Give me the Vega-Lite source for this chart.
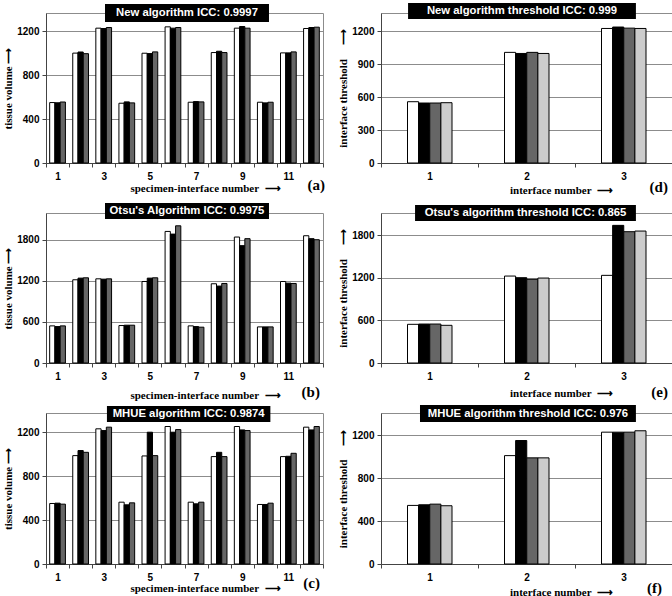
{
"$schema": "https://vega.github.io/schema/vega-lite/v6.json",
"padding": {"left": 2, "top": 2, "right": 0, "bottom": 0},
"bounds": "flush",
"align": "each",
"columns": 2,
"spacing": {"row": 50, "column": 58},
"resolve": {"scale": {"xOffset": "independent"}},
"datasets": {
"a": [
{"g":1,"s":"A","v":550},{"g":1,"s":"B","v":548},{"g":1,"s":"C","v":555},
{"g":2,"s":"A","v":1000},{"g":2,"s":"B","v":1010},{"g":2,"s":"C","v":995},
{"g":3,"s":"A","v":1227},{"g":3,"s":"B","v":1224},{"g":3,"s":"C","v":1233},
{"g":4,"s":"A","v":544},{"g":4,"s":"B","v":556},{"g":4,"s":"C","v":547},
{"g":5,"s":"A","v":999},{"g":5,"s":"B","v":996},{"g":5,"s":"C","v":1011},
{"g":6,"s":"A","v":1239},{"g":6,"s":"B","v":1227},{"g":6,"s":"C","v":1233},
{"g":7,"s":"A","v":553},{"g":7,"s":"B","v":559},{"g":7,"s":"C","v":556},
{"g":8,"s":"A","v":1005},{"g":8,"s":"B","v":1017},{"g":8,"s":"C","v":1005},
{"g":9,"s":"A","v":1227},{"g":9,"s":"B","v":1242},{"g":9,"s":"C","v":1227},
{"g":10,"s":"A","v":553},{"g":10,"s":"B","v":547},{"g":10,"s":"C","v":553},
{"g":11,"s":"A","v":1002},{"g":11,"s":"B","v":1002},{"g":11,"s":"C","v":1011},
{"g":12,"s":"A","v":1224},{"g":12,"s":"B","v":1233},{"g":12,"s":"C","v":1236}
],
"b": [
{"g":1,"s":"A","v":542},{"g":1,"s":"B","v":532},{"g":1,"s":"C","v":542},
{"g":2,"s":"A","v":1215},{"g":2,"s":"B","v":1239},{"g":2,"s":"C","v":1244},
{"g":3,"s":"A","v":1229},{"g":3,"s":"B","v":1224},{"g":3,"s":"C","v":1229},
{"g":4,"s":"A","v":547},{"g":4,"s":"B","v":552},{"g":4,"s":"C","v":552},
{"g":5,"s":"A","v":1190},{"g":5,"s":"B","v":1239},{"g":5,"s":"C","v":1244},
{"g":6,"s":"A","v":1921},{"g":6,"s":"B","v":1882},{"g":6,"s":"C","v":2003},
{"g":7,"s":"A","v":542},{"g":7,"s":"B","v":532},{"g":7,"s":"C","v":523},
{"g":8,"s":"A","v":1157},{"g":8,"s":"B","v":1123},{"g":8,"s":"C","v":1161},
{"g":9,"s":"A","v":1839},{"g":9,"s":"B","v":1713},{"g":9,"s":"C","v":1815},
{"g":10,"s":"A","v":527},{"g":10,"s":"B","v":527},{"g":10,"s":"C","v":527},
{"g":11,"s":"A","v":1190},{"g":11,"s":"B","v":1166},{"g":11,"s":"C","v":1161},
{"g":12,"s":"A","v":1858},{"g":12,"s":"B","v":1815},{"g":12,"s":"C","v":1800}
],
"c": [
{"g":1,"s":"A","v":551},{"g":1,"s":"B","v":554},{"g":1,"s":"C","v":545},
{"g":2,"s":"A","v":987},{"g":2,"s":"B","v":1033},{"g":2,"s":"C","v":1017},
{"g":3,"s":"A","v":1231},{"g":3,"s":"B","v":1215},{"g":3,"s":"C","v":1246},
{"g":4,"s":"A","v":563},{"g":4,"s":"B","v":539},{"g":4,"s":"C","v":557},
{"g":5,"s":"A","v":984},{"g":5,"s":"B","v":1200},{"g":5,"s":"C","v":987},
{"g":6,"s":"A","v":1252},{"g":6,"s":"B","v":1200},{"g":6,"s":"C","v":1224},
{"g":7,"s":"A","v":563},{"g":7,"s":"B","v":548},{"g":7,"s":"C","v":563},
{"g":8,"s":"A","v":978},{"g":8,"s":"B","v":1017},{"g":8,"s":"C","v":978},
{"g":9,"s":"A","v":1252},{"g":9,"s":"B","v":1221},{"g":9,"s":"C","v":1215},
{"g":10,"s":"A","v":542},{"g":10,"s":"B","v":542},{"g":10,"s":"C","v":554},
{"g":11,"s":"A","v":978},{"g":11,"s":"B","v":981},{"g":11,"s":"C","v":1008},
{"g":12,"s":"A","v":1246},{"g":12,"s":"B","v":1221},{"g":12,"s":"C","v":1252}
],
"d": [
{"g":1,"s":"A","v":559},{"g":1,"s":"B","v":547},{"g":1,"s":"C","v":547},{"g":1,"s":"D","v":550},
{"g":2,"s":"A","v":1009},{"g":2,"s":"B","v":999},{"g":2,"s":"C","v":1009},{"g":2,"s":"D","v":999},
{"g":3,"s":"A","v":1227},{"g":3,"s":"B","v":1240},{"g":3,"s":"C","v":1230},{"g":3,"s":"D","v":1227}
],
"e": [
{"g":1,"s":"A","v":544},{"g":1,"s":"B","v":548},{"g":1,"s":"C","v":548},{"g":1,"s":"D","v":530},
{"g":2,"s":"A","v":1223},{"g":2,"s":"B","v":1200},{"g":2,"s":"C","v":1177},{"g":2,"s":"D","v":1195},
{"g":3,"s":"A","v":1233},{"g":3,"s":"B","v":1936},{"g":3,"s":"C","v":1847},{"g":3,"s":"D","v":1856}
],
"f": [
{"g":1,"s":"A","v":547},{"g":1,"s":"B","v":553},{"g":1,"s":"C","v":559},{"g":1,"s":"D","v":544},
{"g":2,"s":"A","v":1012},{"g":2,"s":"B","v":1153},{"g":2,"s":"C","v":991},{"g":2,"s":"D","v":991},
{"g":3,"s":"A","v":1231},{"g":3,"s":"B","v":1231},{"g":3,"s":"C","v":1231},{"g":3,"s":"D","v":1244}
]
},
"concat": [
{
"width": 277, "height": 150,
"resolve": {"scale": {"x": "independent", "y": "independent"}},
"layer": [
{"data": {"name": "a"},
"mark": {"type": "bar", "stroke": "#000", "strokeWidth": 1},
"encoding": {
"x": {"field": "g", "type": "ordinal", "scale": {"paddingInner": 0, "paddingOuter": 0}, "axis": {"title": "specimen-interface number\u00a0\u00a0⟶", "labelExpr": "datum.value % 2 == 1 ? datum.label : ''", "titleX": 159, "titlePadding": 1}},
"xOffset": {"field": "s", "type": "nominal", "scale": {"paddingOuter": 0.7, "paddingInner": 0}},
"y": {"field": "v", "type": "quantitative", "scale": {"domain": [0, 1365], "nice": false}, "axis": {"title": "tissue volume ⟶", "values": [0, 400, 800, 1200]}},
"fill": {"field": "s", "type": "nominal", "scale": {"domain": ["A", "B", "C", "D"], "range": ["#ffffff", "#000000", "#666666", "#cccccc"]}, "legend": null}
}},
{"data": {"values": [{"t": "New algorithm ICC: 0.9997", "p": "(a)"}]},
"layer": [
{"mark": {"type": "rect", "fill": "#000"}, "encoding": {"x": {"datum": 0.213, "type": "quantitative", "scale": {"domain": [0, 1], "nice": false, "zero": false}, "axis": null}, "x2": {"datum": 0.805}, "y": {"datum": 0.94, "type": "quantitative", "scale": {"domain": [0, 1], "nice": false, "zero": false}, "axis": null}, "y2": {"datum": 1.06}}},
{"mark": {"type": "text", "color": "#fff", "font": "Liberation Sans", "fontWeight": "bold", "fontSize": 11.3, "baseline": "middle", "align": "center"}, "encoding": {"x": {"datum": 0.509, "type": "quantitative", "scale": {"domain": [0, 1]}, "axis": null}, "y": {"datum": 1.0, "type": "quantitative", "scale": {"domain": [0, 1]}, "axis": null}, "text": {"field": "t"}}},
{"mark": {"type": "text", "color": "#000", "font": "Liberation Serif", "fontWeight": "bold", "fontSize": 15, "baseline": "middle", "align": "right"}, "encoding": {"x": {"datum": 1.007, "type": "quantitative", "scale": {"domain": [0, 1]}, "axis": null}, "y": {"datum": -0.147, "type": "quantitative", "scale": {"domain": [0, 1]}, "axis": null}, "text": {"field": "p"}}}
]}
]
},
{
"width": 291, "height": 150,
"resolve": {"scale": {"x": "independent", "y": "independent"}},
"layer": [
{"data": {"name": "d"},
"mark": {"type": "bar", "stroke": "#000", "strokeWidth": 1},
"encoding": {
"x": {"field": "g", "type": "ordinal", "scale": {"paddingInner": 0, "paddingOuter": 0}, "axis": {"title": "interface number\u00a0\u00a0⟶", "titleX": 180, "titlePadding": 3}},
"xOffset": {"field": "s", "type": "nominal", "scale": {"range": [26.5, 71], "paddingOuter": 0, "paddingInner": 0}},
"y": {"field": "v", "type": "quantitative", "scale": {"domain": [0, 1368], "nice": false}, "axis": {"title": "interface threshold\u00a0\u00a0\u00a0\u00a0\u00a0⟶", "values": [0, 300, 600, 900, 1200]}},
"fill": {"field": "s", "type": "nominal", "scale": {"domain": ["A", "B", "C", "D"], "range": ["#ffffff", "#000000", "#666666", "#cccccc"]}, "legend": null}
}},
{"data": {"values": [{"t": "New algorithm threshold ICC: 0.999", "p": "(d)"}]},
"layer": [
{"mark": {"type": "rect", "fill": "#000"}, "encoding": {"x": {"datum": 0.093, "type": "quantitative", "scale": {"domain": [0, 1], "nice": false, "zero": false}, "axis": null}, "x2": {"datum": 0.876}, "y": {"datum": 0.96, "type": "quantitative", "scale": {"domain": [0, 1], "nice": false, "zero": false}, "axis": null}, "y2": {"datum": 1.067}}},
{"mark": {"type": "text", "color": "#fff", "font": "Liberation Sans", "fontWeight": "bold", "fontSize": 11.3, "baseline": "middle", "align": "center"}, "encoding": {"x": {"datum": 0.4845, "type": "quantitative", "scale": {"domain": [0, 1]}, "axis": null}, "y": {"datum": 1.013, "type": "quantitative", "scale": {"domain": [0, 1]}, "axis": null}, "text": {"field": "t"}}},
{"mark": {"type": "text", "color": "#000", "font": "Liberation Serif", "fontWeight": "bold", "fontSize": 15, "baseline": "middle", "align": "right"}, "encoding": {"x": {"datum": 0.986, "type": "quantitative", "scale": {"domain": [0, 1]}, "axis": null}, "y": {"datum": -0.16, "type": "quantitative", "scale": {"domain": [0, 1]}, "axis": null}, "text": {"field": "p"}}}
]}
]
},
{
"width": 277, "height": 150,
"resolve": {"scale": {"x": "independent", "y": "independent"}},
"layer": [
{"data": {"name": "b"},
"mark": {"type": "bar", "stroke": "#000", "strokeWidth": 1},
"encoding": {
"x": {"field": "g", "type": "ordinal", "scale": {"paddingInner": 0, "paddingOuter": 0}, "axis": {"title": "specimen-interface number\u00a0\u00a0⟶", "labelExpr": "datum.value % 2 == 1 ? datum.label : ''", "titleX": 159, "titlePadding": 8}},
"xOffset": {"field": "s", "type": "nominal", "scale": {"paddingOuter": 0.7, "paddingInner": 0}},
"y": {"field": "v", "type": "quantitative", "scale": {"domain": [0, 2190], "nice": false}, "axis": {"title": "tissue volume ⟶", "values": [0, 600, 1200, 1800]}},
"fill": {"field": "s", "type": "nominal", "scale": {"domain": ["A", "B", "C", "D"], "range": ["#ffffff", "#000000", "#666666", "#cccccc"]}, "legend": null}
}},
{"data": {"values": [{"t": "Otsu's Algorithm ICC: 0.9975", "p": "(b)"}]},
"layer": [
{"mark": {"type": "rect", "fill": "#000"}, "encoding": {"x": {"datum": 0.213, "type": "quantitative", "scale": {"domain": [0, 1], "nice": false, "zero": false}, "axis": null}, "x2": {"datum": 0.805}, "y": {"datum": 0.96, "type": "quantitative", "scale": {"domain": [0, 1], "nice": false, "zero": false}, "axis": null}, "y2": {"datum": 1.067}}},
{"mark": {"type": "text", "color": "#fff", "font": "Liberation Sans", "fontWeight": "bold", "fontSize": 11.3, "baseline": "middle", "align": "center"}, "encoding": {"x": {"datum": 0.509, "type": "quantitative", "scale": {"domain": [0, 1]}, "axis": null}, "y": {"datum": 1.013, "type": "quantitative", "scale": {"domain": [0, 1]}, "axis": null}, "text": {"field": "t"}}},
{"mark": {"type": "text", "color": "#000", "font": "Liberation Serif", "fontWeight": "bold", "fontSize": 15, "baseline": "middle", "align": "right"}, "encoding": {"x": {"datum": 0.989, "type": "quantitative", "scale": {"domain": [0, 1]}, "axis": null}, "y": {"datum": -0.193, "type": "quantitative", "scale": {"domain": [0, 1]}, "axis": null}, "text": {"field": "p"}}}
]}
]
},
{
"width": 291, "height": 150,
"resolve": {"scale": {"x": "independent", "y": "independent"}},
"layer": [
{"data": {"name": "e"},
"mark": {"type": "bar", "stroke": "#000", "strokeWidth": 1},
"encoding": {
"x": {"field": "g", "type": "ordinal", "scale": {"paddingInner": 0, "paddingOuter": 0}, "axis": {"title": "interface number\u00a0\u00a0⟶", "titleX": 180, "titlePadding": 6}},
"xOffset": {"field": "s", "type": "nominal", "scale": {"range": [26.5, 71], "paddingOuter": 0, "paddingInner": 0}},
"y": {"field": "v", "type": "quantitative", "scale": {"domain": [0, 2110], "nice": false}, "axis": {"title": "interface threshold\u00a0\u00a0\u00a0\u00a0\u00a0⟶", "values": [0, 600, 1200, 1800]}},
"fill": {"field": "s", "type": "nominal", "scale": {"domain": ["A", "B", "C", "D"], "range": ["#ffffff", "#000000", "#666666", "#cccccc"]}, "legend": null}
}},
{"data": {"values": [{"t": "Otsu's algorithm threshold ICC: 0.865", "p": "(e)"}]},
"layer": [
{"mark": {"type": "rect", "fill": "#000"}, "encoding": {"x": {"datum": 0.117, "type": "quantitative", "scale": {"domain": [0, 1], "nice": false, "zero": false}, "axis": null}, "x2": {"datum": 0.876}, "y": {"datum": 0.947, "type": "quantitative", "scale": {"domain": [0, 1], "nice": false, "zero": false}, "axis": null}, "y2": {"datum": 1.053}}},
{"mark": {"type": "text", "color": "#fff", "font": "Liberation Sans", "fontWeight": "bold", "fontSize": 11.3, "baseline": "middle", "align": "center"}, "encoding": {"x": {"datum": 0.4965, "type": "quantitative", "scale": {"domain": [0, 1]}, "axis": null}, "y": {"datum": 1.0, "type": "quantitative", "scale": {"domain": [0, 1]}, "axis": null}, "text": {"field": "t"}}},
{"mark": {"type": "text", "color": "#000", "font": "Liberation Serif", "fontWeight": "bold", "fontSize": 15, "baseline": "middle", "align": "right"}, "encoding": {"x": {"datum": 0.986, "type": "quantitative", "scale": {"domain": [0, 1]}, "axis": null}, "y": {"datum": -0.193, "type": "quantitative", "scale": {"domain": [0, 1]}, "axis": null}, "text": {"field": "p"}}}
]}
]
},
{
"width": 277, "height": 151,
"resolve": {"scale": {"x": "independent", "y": "independent"}},
"layer": [
{"data": {"name": "c"},
"mark": {"type": "bar", "stroke": "#000", "strokeWidth": 1},
"encoding": {
"x": {"field": "g", "type": "ordinal", "scale": {"paddingInner": 0, "paddingOuter": 0}, "axis": {"title": "specimen-interface number\u00a0\u00a0⟶", "labelExpr": "datum.value % 2 == 1 ? datum.label : ''", "titleX": 159, "titlePadding": 0}},
"xOffset": {"field": "s", "type": "nominal", "scale": {"paddingOuter": 0.7, "paddingInner": 0}},
"y": {"field": "v", "type": "quantitative", "scale": {"domain": [0, 1375], "nice": false}, "axis": {"title": "tissue volume ⟶", "values": [0, 400, 800, 1200]}},
"fill": {"field": "s", "type": "nominal", "scale": {"domain": ["A", "B", "C", "D"], "range": ["#ffffff", "#000000", "#666666", "#cccccc"]}, "legend": null}
}},
{"data": {"values": [{"t": "MHUE algorithm ICC: 0.9874", "p": "(c)"}]},
"layer": [
{"mark": {"type": "rect", "fill": "#000"}, "encoding": {"x": {"datum": 0.22, "type": "quantitative", "scale": {"domain": [0, 1], "nice": false, "zero": false}, "axis": null}, "x2": {"datum": 0.81}, "y": {"datum": 0.94, "type": "quantitative", "scale": {"domain": [0, 1], "nice": false, "zero": false}, "axis": null}, "y2": {"datum": 1.047}}},
{"mark": {"type": "text", "color": "#fff", "font": "Liberation Sans", "fontWeight": "bold", "fontSize": 11.3, "baseline": "middle", "align": "center"}, "encoding": {"x": {"datum": 0.515, "type": "quantitative", "scale": {"domain": [0, 1]}, "axis": null}, "y": {"datum": 0.993, "type": "quantitative", "scale": {"domain": [0, 1]}, "axis": null}, "text": {"field": "t"}}},
{"mark": {"type": "text", "color": "#000", "font": "Liberation Serif", "fontWeight": "bold", "fontSize": 15, "baseline": "middle", "align": "right"}, "encoding": {"x": {"datum": 0.989, "type": "quantitative", "scale": {"domain": [0, 1]}, "axis": null}, "y": {"datum": -0.127, "type": "quantitative", "scale": {"domain": [0, 1]}, "axis": null}, "text": {"field": "p"}}}
]}
]
},
{
"width": 291, "height": 151,
"resolve": {"scale": {"x": "independent", "y": "independent"}},
"layer": [
{"data": {"name": "f"},
"mark": {"type": "bar", "stroke": "#000", "strokeWidth": 1},
"encoding": {
"x": {"field": "g", "type": "ordinal", "scale": {"paddingInner": 0, "paddingOuter": 0}, "axis": {"title": "interface number\u00a0\u00a0⟶", "titleX": 180, "titlePadding": 4}},
"xOffset": {"field": "s", "type": "nominal", "scale": {"range": [26.5, 71], "paddingOuter": 0, "paddingInner": 0}},
"y": {"field": "v", "type": "quantitative", "scale": {"domain": [0, 1410], "nice": false}, "axis": {"title": "interface threshold\u00a0\u00a0\u00a0\u00a0\u00a0⟶", "values": [0, 400, 800, 1200]}},
"fill": {"field": "s", "type": "nominal", "scale": {"domain": ["A", "B", "C", "D"], "range": ["#ffffff", "#000000", "#666666", "#cccccc"]}, "legend": null}
}},
{"data": {"values": [{"t": "MHUE algorithm threshold ICC: 0.976", "p": "(f)"}]},
"layer": [
{"mark": {"type": "rect", "fill": "#000"}, "encoding": {"x": {"datum": 0.134, "type": "quantitative", "scale": {"domain": [0, 1], "nice": false, "zero": false}, "axis": null}, "x2": {"datum": 0.876}, "y": {"datum": 0.94, "type": "quantitative", "scale": {"domain": [0, 1], "nice": false, "zero": false}, "axis": null}, "y2": {"datum": 1.053}}},
{"mark": {"type": "text", "color": "#fff", "font": "Liberation Sans", "fontWeight": "bold", "fontSize": 11.3, "baseline": "middle", "align": "center"}, "encoding": {"x": {"datum": 0.505, "type": "quantitative", "scale": {"domain": [0, 1]}, "axis": null}, "y": {"datum": 0.9965, "type": "quantitative", "scale": {"domain": [0, 1]}, "axis": null}, "text": {"field": "t"}}},
{"mark": {"type": "text", "color": "#000", "font": "Liberation Serif", "fontWeight": "bold", "fontSize": 15, "baseline": "middle", "align": "right"}, "encoding": {"x": {"datum": 0.966, "type": "quantitative", "scale": {"domain": [0, 1]}, "axis": null}, "y": {"datum": -0.16, "type": "quantitative", "scale": {"domain": [0, 1]}, "axis": null}, "text": {"field": "p"}}}
]}
]
}
],
"config": {
"view": {"stroke": "#8c8c8c"},
"axis": {"labelFont": "Liberation Sans", "labelFontWeight": "bold", "labelFontSize": 10, "labelColor": "#000", "titleFont": "Liberation Serif", "titleFontWeight": "bold", "titleFontSize": 11, "titleColor": "#000", "tickColor": "#444", "domainColor": "#444", "tickSize": 4, "gridColor": "#8c8c8c", "format": "d"},
"axisX": {"grid": false, "tickBand": "extent", "labelAngle": 0, "labelPadding": 4},
"axisY": {"grid": true, "labelPadding": 3, "titlePadding": 3}
}
}
